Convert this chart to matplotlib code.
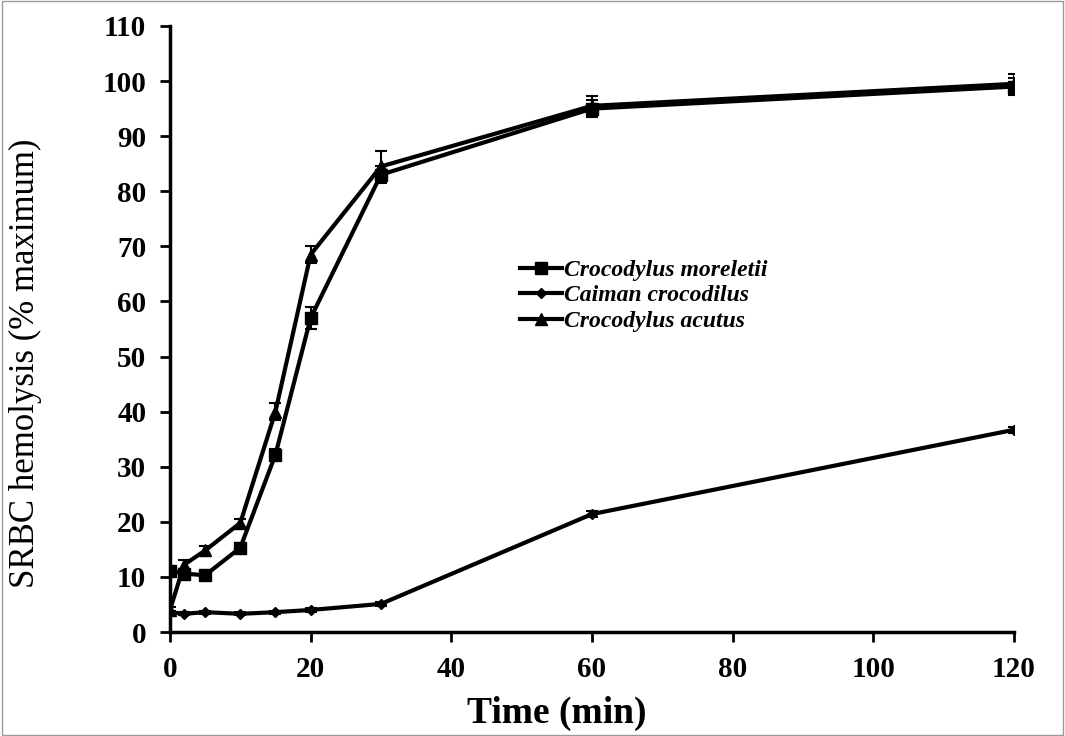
import matplotlib as mpl
import matplotlib.pyplot as plt
from matplotlib.lines import Line2D
mpl.use('Agg')

# dados
tempo = [0, 2, 5, 10, 15, 20, 30, 60, 120]
moreletii = [11.1, 10.6, 10.3, 15.3, 32.2, 57.0, 83.0, 95.0, 99.0]
caiman = [3.6, 3.3, 3.6, 3.3, 3.6, 4.0, 5.1, 21.4, 36.7]
acutus = [4.0, 12.2, 14.8, 19.8, 40.0, 68.5, 84.5, 95.5, 99.5]
err_moreletii = [0.5, 0.5, 0.5, 0.8, 1.0, 2.0, 1.5, 1.5, 1.5]
err_caiman = [0.3, 0.3, 0.3, 0.3, 0.3, 0.3, 0.4, 0.5, 0.6]
err_acutus = [0.5, 0.8, 0.8, 0.8, 1.5, 1.5, 2.8, 1.8, 1.8]
nomes = ['Crocodylus moreletii', 'Caiman crocodilus', 'Crocodylus acutus']

plt.rcParams['font.family'] = ['Liberation Serif', 'DejaVu Serif']

fig = plt.figure(figsize=(10.65, 7.36), dpi=100)
ax = fig.add_axes([0.1596, 0.1413, 0.7924, 0.8234])

estilo = dict(color='black', lw=3, capsize=4, elinewidth=1.5, capthick=1.5)
ax.errorbar(tempo, moreletii, yerr=err_moreletii, marker='s', ms=9, **estilo)
ax.errorbar(tempo, caiman, yerr=err_caiman, marker='D', ms=5, **estilo)
ax.errorbar(tempo, acutus, yerr=err_acutus, marker='^', ms=8, **estilo)

ax.set_xlim(0, 120)
ax.set_ylim(0, 110)
ax.set_xticks(range(0, 121, 20))
ax.set_yticks(range(0, 111, 10))
ax.spines['top'].set_visible(False)
ax.spines['right'].set_visible(False)
ax.spines['left'].set_linewidth(2.5)
ax.spines['bottom'].set_linewidth(2.5)
ax.tick_params(direction='out', length=7, width=2, labelsize=21)
ax.tick_params(axis='x', pad=10)
ax.tick_params(axis='y', pad=10)
for t in ax.get_xticklabels() + ax.get_yticklabels():
    t.set_fontweight('bold')

ax.set_xlabel('Time (min)', fontsize=27, fontweight='bold')
ax.xaxis.set_label_coords(0.4585, -0.106)
ax.set_ylabel('SRBC hemolysis (% maximum)', fontsize=25)
ax.yaxis.set_label_coords(-0.152, 0.443)

handles = [Line2D([], [], color='black', lw=3, marker=m, ms=s)
           for m, s in [('s', 8), ('D', 5), ('^', 8)]]
leg = ax.legend(handles, nomes, loc='upper left', bbox_to_anchor=(0.389, 0.65), frameon=False,
                prop={'style': 'italic', 'weight': 'bold', 'size': 17},
                handlelength=1.8, handletextpad=0.1, labelspacing=0.17)

fig.patches.append(mpl.patches.Rectangle((0.002, 0.002), 0.996, 0.996, transform=fig.transFigure,
                                         fill=False, edgecolor='#999999', lw=1))
plt.savefig('out.png', dpi=100)
